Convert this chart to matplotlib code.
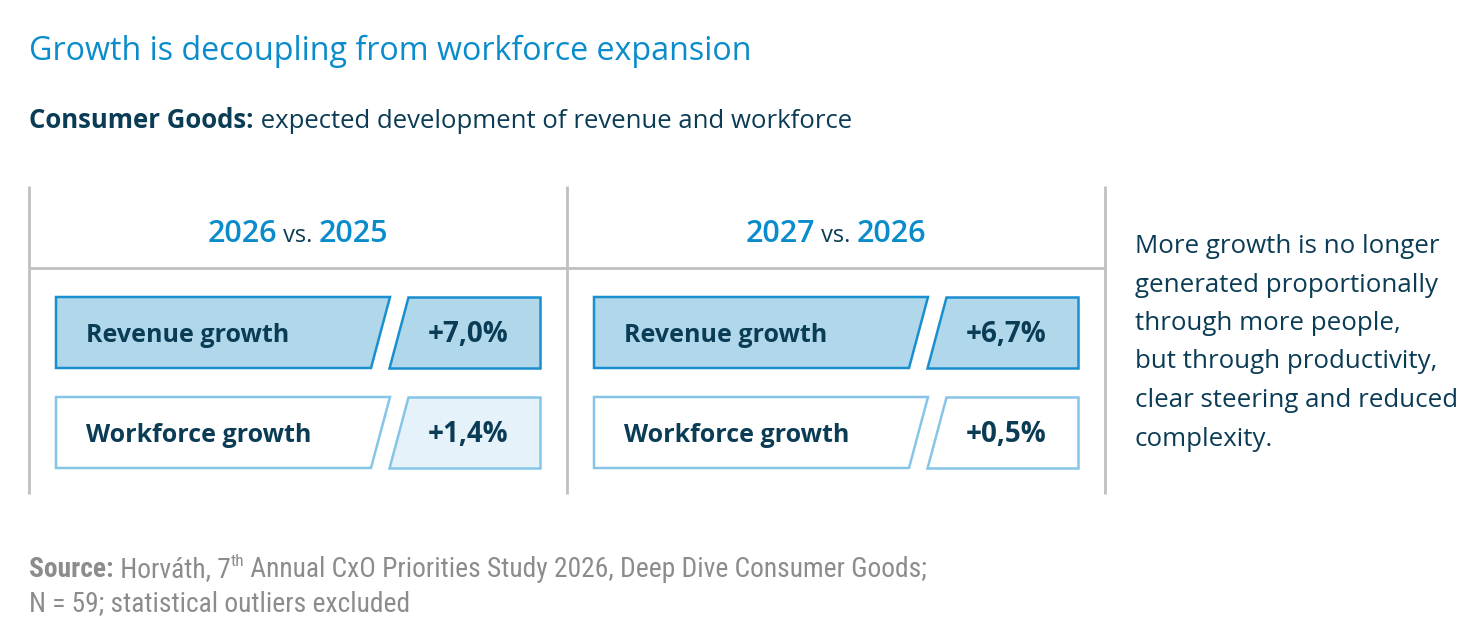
import matplotlib.pyplot as plt
from matplotlib.patches import Polygon
from matplotlib import font_manager

# chart content
title = "Growth is decoupling from workforce expansion"
subtitle_bold = "Consumer Goods:"
subtitle_rest = " expected development of revenue and workforce"
periods = [("2026", "2025"), ("2027", "2026")]
metrics = ["Revenue growth", "Workforce growth"]
values = [[7.0, 1.4], [6.7, 0.5]]
note_lines = ["More growth is no longer",
              "generated proportionally",
              "through more people,",
              "but through productivity,",
              "clear steering and reduced",
              "complexity."]
source_line2 = "N = 59; statistical outliers excluded"

BLUE = "#0a8ccc"
DARK = "#0b3c55"
GRAY = "#8c8c8c"
LINE = "#c0c0c0"
FONT = ["Open Sans", "DejaVu Sans"]

installed = {f.name for f in font_manager.fontManager.ttflist}
narrow = [n for n in ["Liberation Sans Narrow", "Roboto Condensed", "Roboto"] if n in installed]
NARROW = narrow[:1] + ["DejaVu Sans"]

fig = plt.figure(figsize=(14.72, 6.38), dpi=100)
ax = fig.add_axes([0, 0, 1, 1])
ax.set_xlim(0, 1472)
ax.set_ylim(638, 0)
ax.axis("off")
renderer = fig.canvas.get_renderer()


def text_width(s, **kw):
    t = ax.text(0, 0, s, **kw)
    w = t.get_window_extent(renderer).width
    t.remove()
    return w


def pieces(x, y, parts, ha="left"):
    # parts: list of (string, kwargs, dy)
    widths = [text_width(s, **kw) for s, kw, dy in parts]
    total = sum(widths)
    if ha == "center":
        x = x - total / 2
    for (s, kw, dy), w in zip(parts, widths):
        ax.text(x, y + dy, s, va="baseline", ha="left", **kw)
        x += w


# titles
ax.text(29, 60, title, fontsize=23.2, color=BLUE, family=FONT, va="baseline")
pieces(29, 128, [(subtitle_bold, dict(fontsize=18.5, color=DARK, family=FONT, fontweight="bold"), 0),
                 (subtitle_rest, dict(fontsize=18.5, color=DARK, family=FONT), 0)])

# grid lines
for x in [29, 567, 1105]:
    ax.plot([x, x], [186, 494], color=LINE, lw=2, solid_capstyle="butt")
ax.plot([29, 1105], [268, 268], color=LINE, lw=2, solid_capstyle="butt")

panel_w = 538
for p, (a, b) in enumerate(periods):
    off = p * panel_w
    hdr = dict(fontsize=22, color=BLUE, family=FONT, fontweight="semibold")
    pieces(298 + off, 242, [(a, hdr, 0),
                            (" vs. ", dict(fontsize=17, color=DARK, family=FONT), 0),
                            (b, hdr, 0)], ha="center")
    for r, name in enumerate(metrics):
        top = 297 + r * 100
        bot = top + 71
        if r == 0:
            fc_l, fc_v, ec = "#b0d8ea", "#b0d8ea", "#1a8fcf"
        else:
            fc_l, ec = "white", "#86c5e8"
            fc_v = "#e6f2fa" if p == 0 else "white"
        label_box = [(56 + off, top), (390 + off, top), (371 + off, bot), (56 + off, bot)]
        val_box = [(408 + off, top), (540 + off, top), (540 + off, bot), (389 + off, bot)]
        ax.add_patch(Polygon(label_box, closed=True, fc=fc_l, ec=ec, lw=1.8))
        ax.add_patch(Polygon(val_box, closed=True, fc=fc_v, ec=ec, lw=1.8))
        ax.text(86 + off, bot - 26, name, fontsize=18, color=DARK, family=FONT,
                fontweight="bold", va="baseline")
        val = ("+%.1f%%" % values[p][r]).replace(".", ",")
        ax.text(468 + off, bot - 26, val, fontsize=20, color=DARK, family=FONT,
                fontweight="bold", va="baseline", ha="center")

# side note
for i, line in enumerate(note_lines):
    ax.text(1135, 253 + i * 38.5, line, fontsize=18.6, color=DARK, family=FONT, va="baseline")

# source
src = dict(fontsize=19.8, color=GRAY, family=NARROW)
pieces(29, 577, [("Source:", dict(src, fontweight="semibold"), 0),
                 (" Horváth, 7", src, 0),
                 ("th", dict(src, fontsize=12.5), -11),
                 (" Annual CxO Priorities Study 2026, Deep Dive Consumer Goods;", src, 0)])
ax.text(29, 611, source_line2, va="baseline", **src)

fig.savefig("out.png", dpi=100)
